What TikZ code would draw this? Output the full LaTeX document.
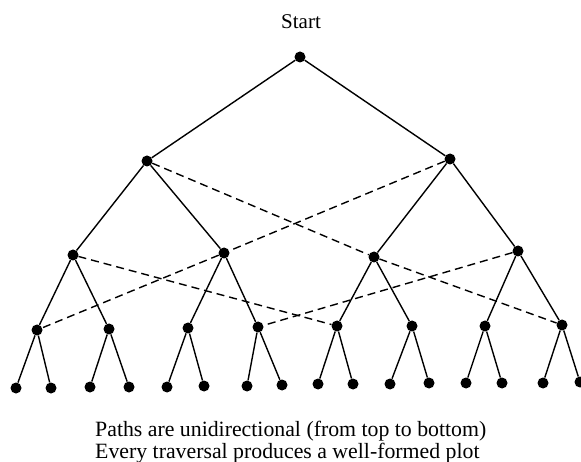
\documentclass[tikz,border=0pt]{standalone}
\usepackage{fontspec}
\setmainfont{Liberation Serif}
\begin{document}
\begin{tikzpicture}[x=1pt,y=-1pt,
  dot/.style={circle,fill=black,draw=none,inner sep=0pt,minimum size=11pt},
  edge/.style={line width=1.4pt,black},
  jump/.style={line width=1.4pt,black,dash pattern=on 8pt off 5pt},
  label/.style={font=\fontsize{21}{22}\selectfont,inner sep=0pt}]
\clip (0,0) rectangle (581,462);

% root and first two levels
\node[dot] (r) at (300,57) {};
\node[dot] (a) at (147,161) {};
\node[dot] (b) at (450,159) {};
\node[dot] (aa) at (73,255) {};
\node[dot] (ab) at (224,253) {};
\node[dot] (ba) at (374,257) {};
\node[dot] (bb) at (518,251) {};

% third level
\node[dot] (aaa) at (37,330) {};
\node[dot] (aab) at (109,329) {};
\node[dot] (aba) at (188,328) {};
\node[dot] (abb) at (258,327) {};
\node[dot] (baa) at (337,326) {};
\node[dot] (bab) at (412,326) {};
\node[dot] (bba) at (485,326) {};
\node[dot] (bbb) at (562,325) {};

% leaves
\node[dot] (l1) at (16,388) {};
\node[dot] (l2) at (51,388) {};
\node[dot] (l3) at (90,387) {};
\node[dot] (l4) at (129,387) {};
\node[dot] (l5) at (167,387) {};
\node[dot] (l6) at (204,386) {};
\node[dot] (l7) at (247,386) {};
\node[dot] (l8) at (282,385) {};
\node[dot] (l9) at (318,384) {};
\node[dot] (l10) at (353,384) {};
\node[dot] (l11) at (390,384) {};
\node[dot] (l12) at (429,383) {};
\node[dot] (l13) at (466,383) {};
\node[dot] (l14) at (502,383) {};
\node[dot] (l15) at (543,383) {};
\node[dot] (l16) at (580,382) {};

% tree edges
\draw[edge] (r) -- (a);
\draw[edge] (r) -- (b);
\draw[edge] (a) -- (aa);
\draw[edge] (a) -- (ab);
\draw[edge] (b) -- (ba);
\draw[edge] (b) -- (bb);
\draw[edge] (aa) -- (aaa);
\draw[edge] (aa) -- (aab);
\draw[edge] (ab) -- (aba);
\draw[edge] (ab) -- (abb);
\draw[edge] (ba) -- (baa);
\draw[edge] (ba) -- (bab);
\draw[edge] (bb) -- (bba);
\draw[edge] (bb) -- (bbb);
\draw[edge] (aaa) -- (l1);
\draw[edge] (aaa) -- (l2);
\draw[edge] (aab) -- (l3);
\draw[edge] (aab) -- (l4);
\draw[edge] (aba) -- (l5);
\draw[edge] (aba) -- (l6);
\draw[edge] (abb) -- (l7);
\draw[edge] (abb) -- (l8);
\draw[edge] (baa) -- (l9);
\draw[edge] (baa) -- (l10);
\draw[edge] (bab) -- (l11);
\draw[edge] (bab) -- (l12);
\draw[edge] (bba) -- (l13);
\draw[edge] (bba) -- (l14);
\draw[edge] (bbb) -- (l15);
\draw[edge] (bbb) -- (l16);

% cross-links
\draw[jump] (a) -- (ba);
\draw[jump] (ba) -- (bbb);
\draw[jump] (b) -- (ab);
\draw[jump] (ab) -- (aaa);
\draw[jump] (aa) -- (baa);
\draw[jump] (bb) -- (abb);

% texts
\node[label,anchor=base] (start) at (301,29) {Start};
\node[label,anchor=base west,font=\fontsize{21.8}{22}\selectfont] (note1) at (95,436) {Paths are unidirectional (from top to bottom)};
\node[label,anchor=base west,font=\fontsize{21.8}{22}\selectfont] (note2) at (95,458) {Every traversal produces a well-formed plot};
\end{tikzpicture}
\end{document}
